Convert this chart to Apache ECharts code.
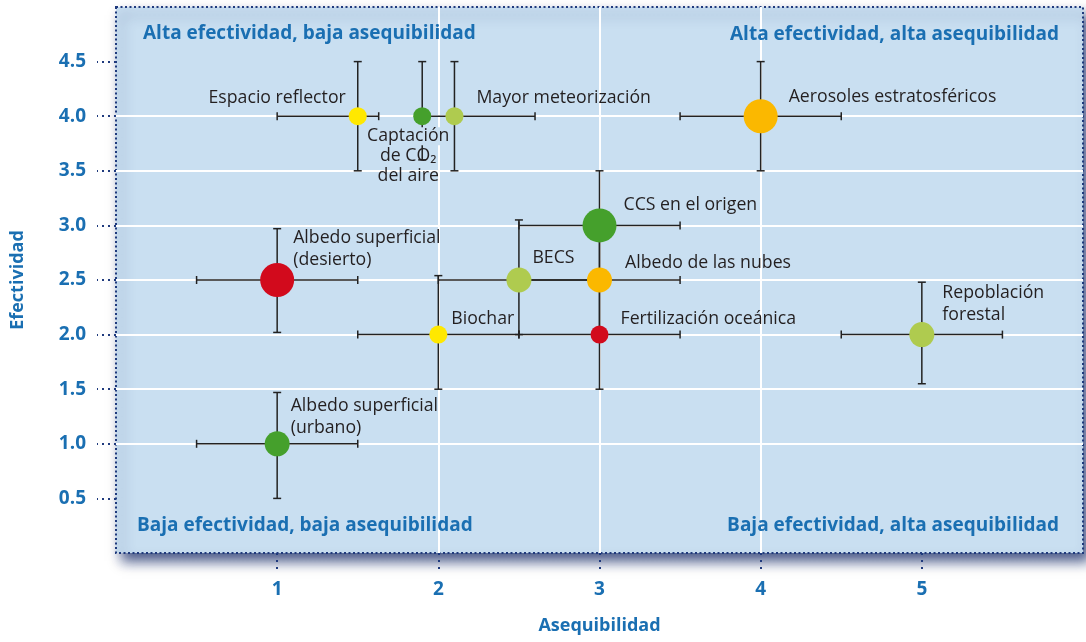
<!DOCTYPE html>
<html>
<head>
<meta charset="utf-8">
<title>Efectividad y asequibilidad</title>
<script src="https://cdn.jsdelivr.net/npm/echarts@6/dist/echarts.min.js"></script>
<style>
  html, body { margin: 0; padding: 0; background: #fff; }
  #chart { width: 1086px; height: 642px; }
</style>
</head>
<body>
<div id="chart"></div>
<script>
// datos
var names = ['Espacio reflector', 'Captación de CO₂ del aire', 'Mayor meteorización', 'Aerosoles estratosféricos',
  'CCS en el origen', 'BECS', 'Albedo de las nubes', 'Albedo superficial (desierto)', 'Biochar',
  'Fertilización oceánica', 'Repoblación forestal', 'Albedo superficial (urbano)'];
var asequibilidad = [1.5, 1.9, 2.1, 4, 3, 2.5, 3, 1, 2, 3, 5, 1];
var efectividad = [4, 4, 4, 4, 3, 2.5, 2.5, 2.5, 2, 2, 2, 1];
var xLow = [1.0, 1.9, 1.9, 3.5, 2.5, 2.0, 2.5, 0.5, 1.5, 2.5, 4.5, 0.5];
var xHigh = [1.63, 1.9, 2.6, 4.5, 3.5, 3.0, 3.5, 1.5, 2.5, 3.5, 5.5, 1.5];
var yLow = [3.5, 3.6, 3.5, 3.5, 2.5, 2.0, 2.0, 2.02, 1.5, 1.5, 1.55, 0.5];
var yHigh = [4.5, 4.5, 4.5, 4.5, 3.5, 3.05, 3.0, 2.97, 2.54, 2.5, 2.48, 1.47];
// 1 = rojo ... 5 = verde
var nivel = [3, 5, 4, 2, 5, 4, 2, 1, 3, 1, 4, 5];
// 1 = pequeno, 2 = medio, 3 = grande
var tamano = [1, 1, 1, 3, 3, 2, 2, 3, 1, 1, 2, 2];
var xTicks = [1, 2, 3, 4, 5];
var yTicks = [0.5, 1.0, 1.5, 2.0, 2.5, 3.0, 3.5, 4.0, 4.5];
var cuadrantes = ['Alta efectividad, baja asequibilidad', 'Alta efectividad, alta asequibilidad',
  'Baja efectividad, baja asequibilidad', 'Baja efectividad, alta asequibilidad'];

// estilos
var FONT = '"Open Sans", Lato, sans-serif';
var BLUE = '#1a6fb2';
var PANEL = '#c9dff1';
var LBL = 17.7;
var nivelColor = { 1: '#d20a1c', 2: '#fbb800', 3: '#ffe800', 4: '#afcb4f', 5: '#45a02c' };
var tamanoPx = { 1: 18, 2: 25, 3: 34 };
var etiquetas = [
  { text: 'Espacio reflector', position: 'left', distance: 3, offset: [0, -18] },
  { text: '{a|Captación}\n{b|de CO₂}\n{b|del aire}', position: 'bottom', distance: 1, offset: [-14, 0] },
  { text: 'Mayor meteorización', position: 'right', distance: 13, offset: [0, -18] },
  { text: 'Aerosoles estratosféricos', position: 'right', distance: 11, offset: [0, -19] },
  { text: 'CCS en el origen', position: 'right', distance: 7, offset: [0, -20] },
  { text: 'BECS', position: 'right', distance: 1, offset: [0, -22] },
  { text: 'Albedo de las nubes', position: 'right', distance: 13, offset: [0, -17] },
  { text: 'Albedo superficial\n(desierto)', position: 'right', distance: -1, offset: [0, -31] },
  { text: 'Biochar', position: 'right', distance: 4, offset: [0, -16] },
  { text: 'Fertilización oceánica', position: 'right', distance: 12, offset: [0, -16] },
  { text: 'Repoblación\nforestal', position: 'right', distance: 8, offset: [0, -31] },
  { text: 'Albedo superficial\n(urbano)', position: 'right', distance: 1, offset: [0, -27] }
];

var barData = names.map(function (n, i) {
  return [asequibilidad[i], efectividad[i], xLow[i], xHigh[i], yLow[i], yHigh[i]];
});
var dotData = names.map(function (n, i) {
  var e = etiquetas[i];
  return {
    name: n,
    value: [asequibilidad[i], efectividad[i]],
    symbolSize: tamanoPx[tamano[i]],
    itemStyle: { color: nivelColor[nivel[i]], opacity: 1 },
    label: {
      show: true,
      formatter: e.text,
      position: e.position,
      distance: e.distance,
      offset: e.offset,
      align: e.position === 'bottom' ? 'center' : undefined
    }
  };
});

function renderBar(params, api) {
  var l = api.coord([api.value(2), api.value(1)]);
  var r = api.coord([api.value(3), api.value(1)]);
  var t = api.coord([api.value(0), api.value(5)]);
  var b = api.coord([api.value(0), api.value(4)]);
  var cap = 4;
  var st = { stroke: '#222', lineWidth: 1.5, fill: null };
  var kids = [
    { type: 'line', shape: { x1: t[0], y1: t[1], x2: b[0], y2: b[1] }, style: st },
    { type: 'line', shape: { x1: t[0] - cap, y1: t[1], x2: t[0] + cap, y2: t[1] }, style: st },
    { type: 'line', shape: { x1: b[0] - cap, y1: b[1], x2: b[0] + cap, y2: b[1] }, style: st }
  ];
  if (r[0] - l[0] > 1) {
    kids.push({ type: 'line', shape: { x1: l[0], y1: l[1], x2: r[0], y2: r[1] }, style: st });
    kids.push({ type: 'line', shape: { x1: l[0], y1: l[1] - cap, x2: l[0], y2: l[1] + cap }, style: st });
    kids.push({ type: 'line', shape: { x1: r[0], y1: r[1] - cap, x2: r[0], y2: r[1] + cap }, style: st });
  }
  return { type: 'group', children: kids };
}

var quadStyle = { fill: BLUE, font: 'bold 19px ' + FONT };

var chart = echarts.init(document.getElementById('chart'));
chart.setOption({
  animation: false,
  textStyle: { fontFamily: FONT },
  grid: {
    show: true,
    left: 116, top: 7, right: 3, bottom: 89,
    backgroundColor: PANEL,
    borderColor: '#1f3a7d',
    borderWidth: 2,
    borderType: [2, 2.5],
    shadowColor: 'rgba(25,45,105,0.8)',
    shadowBlur: 12,
    shadowOffsetX: 6,
    shadowOffsetY: 8
  },
  xAxis: {
    type: 'value', min: 0, max: 6, interval: 1,
    name: 'Asequibilidad', nameLocation: 'middle', nameGap: 64,
    nameTextStyle: { color: BLUE, fontWeight: 'bold', fontSize: 18, fontFamily: FONT },
    axisLine: { show: false },
    axisTick: { show: true, length: 21, customValues: xTicks, lineStyle: { color: '#1f3a7d', width: 2, type: [2, 5] } },
    axisLabel: { customValues: xTicks, margin: 27, color: BLUE, fontWeight: 'bold', fontSize: 19, fontFamily: FONT },
    splitLine: { show: true, showMinLine: false, showMaxLine: false, lineStyle: { color: '#ffffff', width: 2 } }
  },
  yAxis: {
    type: 'value', min: 0, max: 5, interval: 0.5,
    name: 'Efectividad', nameLocation: 'middle', nameGap: 89,
    nameTextStyle: { color: BLUE, fontWeight: 'bold', fontSize: 18, fontFamily: FONT },
    axisLine: { show: false },
    axisTick: { show: true, length: 19, customValues: yTicks, lineStyle: { color: '#1f3a7d', width: 2, type: [2, 4] } },
    axisLabel: {
      customValues: yTicks, margin: 30, align: 'right', color: BLUE, fontWeight: 'bold', fontSize: 19, fontFamily: FONT,
      formatter: function (v) { return v.toFixed(1); }
    },
    splitLine: { show: true, showMinLine: false, showMaxLine: false, lineStyle: { color: '#ffffff', width: 2 } }
  },
  graphic: [
    { type: 'text', left: 143, top: 24, z: 10, style: Object.assign({ text: cuadrantes[0] }, quadStyle) },
    { type: 'text', right: 27, top: 25, z: 10, style: Object.assign({ text: cuadrantes[1] }, quadStyle) },
    { type: 'text', left: 137, top: 516, z: 10, style: Object.assign({ text: cuadrantes[2] }, quadStyle) },
    { type: 'text', right: 27, top: 516, z: 10, style: Object.assign({ text: cuadrantes[3] }, quadStyle) }
  ],
  series: [
    {
      type: 'custom',
      renderItem: renderBar,
      data: barData,
      encode: { x: [0, 2, 3], y: [1, 4, 5] },
      z: 2,
      silent: true
    },
    {
      type: 'scatter',
      data: dotData,
      z: 3,
      label: {
        color: '#231f20', fontSize: LBL, fontFamily: FONT, lineHeight: 22,
        rich: {
          a: { fontSize: LBL, fontFamily: FONT, color: '#231f20', lineHeight: 20, backgroundColor: PANEL },
          b: { fontSize: LBL, fontFamily: FONT, color: '#231f20', lineHeight: 20 }
        }
      }
    }
  ]
});
window.addEventListener('resize', function () {
  chart.resize();
});
</script>
</body>
</html>
